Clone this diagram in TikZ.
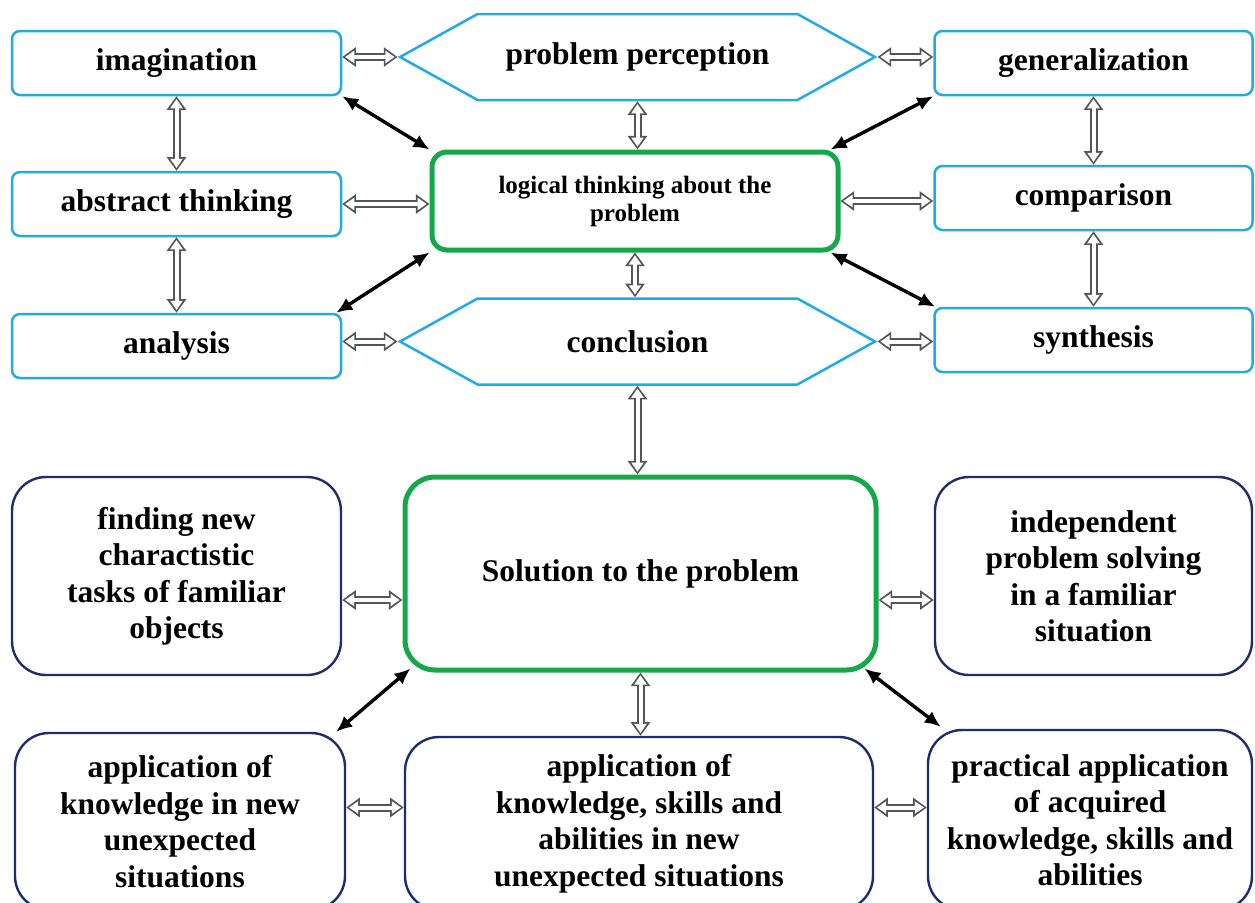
\documentclass[tikz,border=0pt]{standalone}
\usepackage{fontspec}
\setmainfont{Liberation Serif}
\usetikzlibrary{arrows.meta}
\usetikzlibrary{shapes.symbols}

\definecolor{skyblue}{RGB}{33,170,230}
\definecolor{leafgreen}{RGB}{20,168,75}
\definecolor{navyline}{RGB}{30,45,110}
\definecolor{shaftgray}{RGB}{85,85,85}

\tikzset{
  txt/.style={font=\bfseries\fontsize{15.75}{18.25}\selectfont, align=center},
  bluebox/.style={txt, draw=skyblue, line width=1.25pt, rounded corners=4pt, fill=white, minimum width=164.5pt, minimum height=32pt},
  bluehex/.style={txt, shape=signal, signal to=west and east, signal pointer angle=58, draw=skyblue, line width=1.25pt, fill=white, minimum width=237.5pt, minimum height=43pt},
  greenbox/.style={txt, draw=leafgreen, line width=2.5pt, fill=white},
  navybox/.style={txt, draw=navyline, line width=1.2pt, fill=white, rounded corners=17pt},
  hollow/.style={draw=white, line width=2pt, {Triangle[length=4.6pt,width=6pt,sep=1.4pt]}-{Triangle[length=4.6pt,width=6pt,sep=1.4pt]}, preaction={draw=shaftgray, line width=4pt, {Triangle[length=6.8pt,width=9.4pt]}-{Triangle[length=6.8pt,width=9.4pt]}}},
  blackarrow/.style={draw=black, line width=1.7pt, {Latex[length=8pt,width=7pt]}-{Latex[length=8pt,width=7pt]}}
}

\begin{document}
\begin{tikzpicture}[x=0.5pt, y=-0.5pt]
\useasboundingbox (0,0) rectangle (1255,902);
\clip (0,0) rectangle (1255,902);

\node[bluebox] (imag) at (176.5,63) {imagination};
\node[bluebox] (abst) at (176.5,204) {abstract thinking};
\node[bluebox] (anal) at (176.5,346) {analysis};
\node[bluebox, minimum width=159pt] (gen) at (1093.5,63) {generalization};
\node[bluebox, minimum width=159pt] (comp) at (1093.5,198) {comparison};
\node[bluebox, minimum width=159pt] (synt) at (1093.5,340) {synthesis};
\node[bluehex] (perc) at (637.5,57) {problem perception};
\node[bluehex] (conc) at (637.5,341.5) {conclusion};
\node[greenbox, rounded corners=7.5pt, minimum width=203pt, minimum height=49pt, font=\bfseries\fontsize{12.5}{14}\selectfont] (logic) at (635,201) {logical thinking about the\\problem};

\node[greenbox, rounded corners=15pt, minimum width=235.5pt, minimum height=96.5pt] (sol) at (640.5,573.5) {Solution to the problem};
\node[navybox, minimum width=164.5pt, minimum height=99pt] (find) at (176.5,576) {finding new\\charactistic\\tasks of familiar\\objects};
\node[navybox, minimum width=158.5pt, minimum height=99pt] (indep) at (1093.5,576) {independent\\problem solving\\in a familiar\\situation};
\node[navybox, minimum width=165pt, minimum height=88.5pt] (appl) at (180,821.5) {application of\\knowledge in new\\unexpected\\situations};
\node[navybox, minimum width=234pt, minimum height=86.5pt] (appm) at (639,823.5) {application of\\knowledge, skills and\\abilities in new\\unexpected situations};
\node[navybox, minimum width=162pt, minimum height=90pt] (prac) at (1090,820) {practical application\\of acquired\\knowledge, skills and\\abilities};

\draw[hollow] (perc.west) -- (perc.west -| imag.east);
\draw[hollow] (perc.east) -- (perc.east -| gen.west);
\draw[hollow] (imag.south) -- (abst.north);
\draw[hollow] (gen.south) -- (comp.north);
\draw[hollow] (abst.south) -- (anal.north);
\draw[hollow] (comp.south) -- (synt.north);
\draw[hollow] (perc.south) -- (perc.south |- logic.north);
\draw[hollow] (logic.south) -- (logic.south |- conc.north);
\draw[hollow] (conc.south) -- (conc.south |- sol.north);
\draw[hollow] (sol.south) -- (sol.south |- appm.north);
\draw[hollow] (abst.east) -- (abst.east -| logic.west);
\draw[hollow] (logic.east) -- (logic.east -| comp.west);
\draw[hollow] (conc.west) -- (conc.west -| anal.east);
\draw[hollow] (conc.east) -- (conc.east -| synt.west);
\draw[hollow] ([yshift=-12pt]find.east) -- ([yshift=-12pt]find.east -| sol.west);
\draw[hollow] ([yshift=-12pt]indep.west) -- ([yshift=-12pt]indep.west -| sol.east);
\draw[hollow] ([yshift=8pt]appm.west) -- ([yshift=8pt]appm.west -| appl.east);
\draw[hollow] ([yshift=8pt]appm.east) -- ([yshift=8pt]appm.east -| prac.west);

\draw[blackarrow] (imag.south east) -- (logic.north west);
\draw[blackarrow] (gen.south west) -- ([xshift=-5pt]logic.north east);
\draw[blackarrow] (logic.south west) -- ([xshift=-3pt]anal.north east);
\draw[blackarrow] ([xshift=-5pt]logic.south east) -- ([xshift=1pt]synt.north west);
\draw[blackarrow] ([xshift=4pt,yshift=2pt]sol.south west) -- ([xshift=-5pt]appl.north east);
\draw[blackarrow] ([xshift=-7pt,yshift=2pt]sol.south east) -- ([xshift=7pt,yshift=1pt]prac.north west);
\end{tikzpicture}
\end{document}
